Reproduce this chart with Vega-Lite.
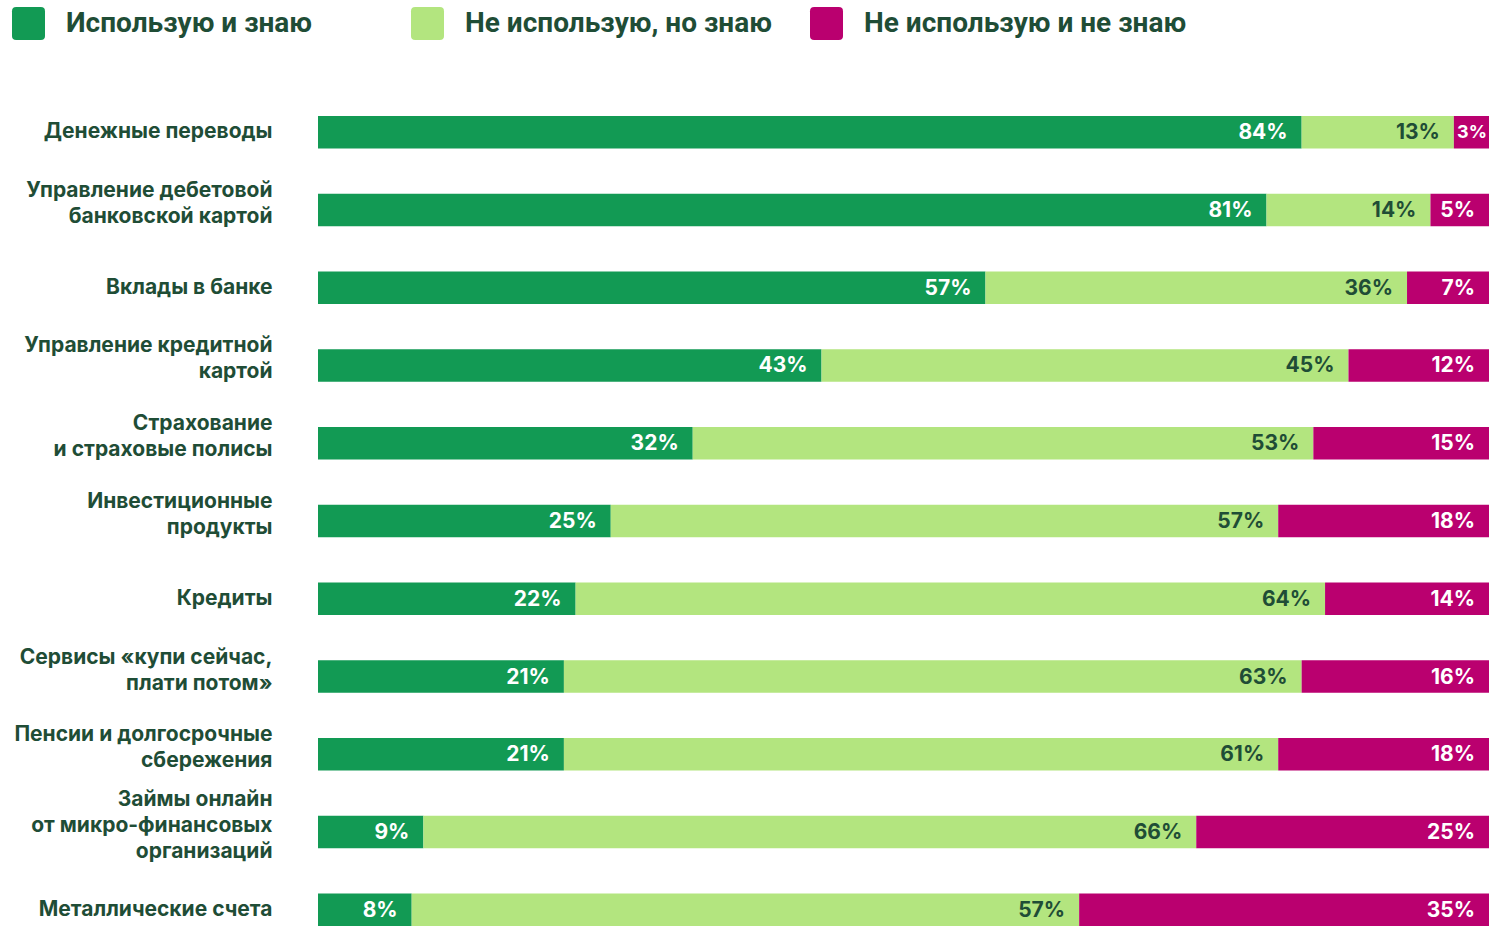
{
  "$schema": "https://vega.github.io/schema/vega-lite/v6.json",
  "width": 1171,
  "height": 810,
  "autosize": {"type": "none"},
  "padding": {"left": 318, "top": 116, "right": 0, "bottom": 1},
  "background": "white",
  "config": {"view": {"stroke": null}, "font": "Inter"},
  "data": {
    "values": [
      {"c": "Денежные переводы", "s": "Использую и знаю", "o": 1, "v": 0.84},
      {"c": "Денежные переводы", "s": "Не использую, но знаю", "o": 2, "v": 0.13},
      {"c": "Денежные переводы", "s": "Не использую и не знаю", "o": 3, "v": 0.03},
      {"c": "Управление дебетовой\nбанковской картой", "s": "Использую и знаю", "o": 1, "v": 0.81},
      {"c": "Управление дебетовой\nбанковской картой", "s": "Не использую, но знаю", "o": 2, "v": 0.14},
      {"c": "Управление дебетовой\nбанковской картой", "s": "Не использую и не знаю", "o": 3, "v": 0.05},
      {"c": "Вклады в банке", "s": "Использую и знаю", "o": 1, "v": 0.57},
      {"c": "Вклады в банке", "s": "Не использую, но знаю", "o": 2, "v": 0.36},
      {"c": "Вклады в банке", "s": "Не использую и не знаю", "o": 3, "v": 0.07},
      {"c": "Управление кредитной\nкартой", "s": "Использую и знаю", "o": 1, "v": 0.43},
      {"c": "Управление кредитной\nкартой", "s": "Не использую, но знаю", "o": 2, "v": 0.45},
      {"c": "Управление кредитной\nкартой", "s": "Не использую и не знаю", "o": 3, "v": 0.12},
      {"c": "Страхование\nи страховые полисы", "s": "Использую и знаю", "o": 1, "v": 0.32},
      {"c": "Страхование\nи страховые полисы", "s": "Не использую, но знаю", "o": 2, "v": 0.53},
      {"c": "Страхование\nи страховые полисы", "s": "Не использую и не знаю", "o": 3, "v": 0.15},
      {"c": "Инвестиционные\nпродукты", "s": "Использую и знаю", "o": 1, "v": 0.25},
      {"c": "Инвестиционные\nпродукты", "s": "Не использую, но знаю", "o": 2, "v": 0.57},
      {"c": "Инвестиционные\nпродукты", "s": "Не использую и не знаю", "o": 3, "v": 0.18},
      {"c": "Кредиты", "s": "Использую и знаю", "o": 1, "v": 0.22},
      {"c": "Кредиты", "s": "Не использую, но знаю", "o": 2, "v": 0.64},
      {"c": "Кредиты", "s": "Не использую и не знаю", "o": 3, "v": 0.14},
      {"c": "Сервисы «купи сейчас,\nплати потом»", "s": "Использую и знаю", "o": 1, "v": 0.21},
      {"c": "Сервисы «купи сейчас,\nплати потом»", "s": "Не использую, но знаю", "o": 2, "v": 0.63},
      {"c": "Сервисы «купи сейчас,\nплати потом»", "s": "Не использую и не знаю", "o": 3, "v": 0.16},
      {"c": "Пенсии и долгосрочные\nсбережения", "s": "Использую и знаю", "o": 1, "v": 0.21},
      {"c": "Пенсии и долгосрочные\nсбережения", "s": "Не использую, но знаю", "o": 2, "v": 0.61},
      {"c": "Пенсии и долгосрочные\nсбережения", "s": "Не использую и не знаю", "o": 3, "v": 0.18},
      {"c": "Займы онлайн\nот микро-финансовых\nорганизаций", "s": "Использую и знаю", "o": 1, "v": 0.09},
      {"c": "Займы онлайн\nот микро-финансовых\nорганизаций", "s": "Не использую, но знаю", "o": 2, "v": 0.66},
      {"c": "Займы онлайн\nот микро-финансовых\nорганизаций", "s": "Не использую и не знаю", "o": 3, "v": 0.25},
      {"c": "Металлические счета", "s": "Использую и знаю", "o": 1, "v": 0.08},
      {"c": "Металлические счета", "s": "Не использую, но знаю", "o": 2, "v": 0.57},
      {"c": "Металлические счета", "s": "Не использую и не знаю", "o": 3, "v": 0.35}
    ]
  },
  "transform": [
    {"stack": "v", "groupby": ["c"], "sort": [{"field": "o", "order": "ascending"}], "as": ["v0", "v1"]}
  ],
  "encoding": {
    "y": {
      "field": "c",
      "type": "nominal",
      "sort": null,
      "title": null,
      "scale": {"paddingInner": 0.583, "paddingOuter": 0},
      "axis": {
        "domain": false,
        "ticks": false,
        "tickSize": 0,
        "labelPadding": 46,
        "labelFont": "Inter",
        "labelFontWeight": "bold",
        "labelFontSize": 21,
        "labelColor": "#1f4d36",
        "labelLimit": 400,
        "labelLineHeight": 26,
        "labelOffset": {
          "condition": [
            {"test": "length(split(datum.value, '\\n')) == 3", "value": -32},
            {"test": "length(split(datum.value, '\\n')) == 2", "value": -19}
          ],
          "value": 0
        },
        "labelExpr": "split(datum.label, '\\n')"
      }
    }
  },
  "layer": [
    {
      "mark": {"type": "bar"},
      "encoding": {
        "x": {"field": "v0", "type": "quantitative", "scale": {"domain": [0, 1]}, "axis": null},
        "x2": {"field": "v1"},
        "color": {
          "field": "s",
          "type": "nominal",
          "scale": {
            "domain": ["Использую и знаю", "Не использую, но знаю", "Не использую и не знаю"],
            "range": ["#129a54", "#b3e57f", "#ba006f"]
          },
          "legend": {
            "orient": "none",
            "legendX": -306,
            "legendY": -109,
            "direction": "horizontal",
            "title": null,
            "padding": 0,
            "symbolType": "M-0.75,-1H0.75Q1,-1 1,-0.75V0.75Q1,1 0.75,1H-0.75Q-1,1 -1,0.75V-0.75Q-1,-1 -0.75,-1Z",
            "symbolSize": 1089,
            "symbolStrokeWidth": 0,
            "symbolOpacity": 1,
            "labelFont": "Roboto",
            "labelFontWeight": "bold",
            "labelFontSize": 28,
            "labelColor": "#1f4d36",
            "labelOffset": 21,
            "labelLimit": 600,
            "columnPadding": 22,
            "gridAlign": "all"
          }
        }
      }
    },
    {
      "transform": [{"filter": "datum.v >= 0.04"}],
      "mark": {"type": "text", "align": "right", "baseline": "middle", "dx": -14, "dy": 1, "font": "Inter", "fontSize": 21, "fontWeight": "bold"},
      "encoding": {
        "x": {"field": "v1", "type": "quantitative"},
        "text": {"field": "v", "type": "quantitative", "format": ".0%"},
        "color": {"condition": {"test": "datum.s === 'Не использую, но знаю'", "value": "#1f4d36"}, "value": "#ffffff"}
      }
    },
    {
      "transform": [{"filter": "datum.v < 0.04"}],
      "mark": {"type": "text", "align": "right", "baseline": "middle", "dx": -2, "dy": 1, "font": "Inter", "fontSize": 18, "fontWeight": "bold"},
      "encoding": {
        "x": {"field": "v1", "type": "quantitative"},
        "text": {"field": "v", "type": "quantitative", "format": ".0%"},
        "color": {"condition": {"test": "datum.s === 'Не использую, но знаю'", "value": "#1f4d36"}, "value": "#ffffff"}
      }
    }
  ]
}
